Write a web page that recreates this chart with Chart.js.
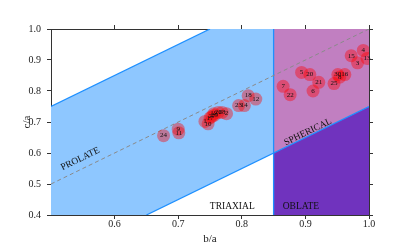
<!DOCTYPE html>
<html>
<head>
<meta charset="utf-8">
<script src="https://cdn.jsdelivr.net/npm/chart.js@4/dist/chart.umd.min.js"></script>
<style>
  body { margin: 0; background: #fff; }
</style>
</head>
<body>
<canvas id="shapeChart" width="410" height="246"></canvas>
<script>
// object ids with axis ratios b/a and c/a
var ids = [4, 15, 3, 13, 5, 20, 7, 22, 21, 6, 25, 30, 8, 16,
           24, 9, 11, 1, 10, 17, 27, 29, 19, 26, 28, 2, 23, 14, 18, 12];
var ba = [0.991, 0.972, 0.982, 0.997, 0.894, 0.907, 0.865, 0.876, 0.921, 0.912, 0.945, 0.951, 0.954, 0.962,
          0.677, 0.700, 0.701, 0.742, 0.747, 0.750, 0.753, 0.757, 0.756, 0.763, 0.769, 0.776, 0.795, 0.804, 0.810, 0.822];
var ca = [0.931, 0.914, 0.891, 0.905, 0.860, 0.853, 0.815, 0.788, 0.828, 0.800, 0.824, 0.853, 0.845, 0.853,
          0.656, 0.677, 0.665, 0.702, 0.694, 0.713, 0.718, 0.722, 0.727, 0.731, 0.731, 0.727, 0.753, 0.753, 0.785, 0.774];

var xTicks = [0.6, 0.7, 0.8, 0.9, 1.0];
var yTicks = [0.4, 0.5, 0.6, 0.7, 0.8, 0.9, 1.0];

// region definitions: c/a = b/a +/- offset, split at b/a = 0.85
var xMin = 0.5, xMax = 1.0, yMin = 0.4, yMax = 1.0;
var bandOffset = 0.25;
var splitBA = 0.85;

var regionLabels = [
  { text: "PROLATE",   x: 0.546, y: 0.581, rotate: true },
  { text: "SPHERICAL", x: 0.904, y: 0.668, rotate: true },
  { text: "TRIAXIAL",  x: 0.785, y: 0.429, rotate: false },
  { text: "OBLATE",    x: 0.893, y: 0.426, rotate: false }
];

var serif = "'Liberation Serif', 'Times New Roman', serif";

var up = function (x) { return { x: x, y: x + bandOffset }; };
var lo = function (x) { return { x: x, y: x - bandOffset }; };

var bandPoly = [up(xMin), up(yMax - bandOffset), { x: splitBA, y: yMax }, lo(splitBA),
                lo(yMin + bandOffset), { x: xMin, y: yMin }, up(xMin)];
var spherePoly = [lo(splitBA), { x: splitBA, y: yMax }, { x: xMax, y: yMax }, lo(xMax), lo(splitBA)];
var oblatePoly = [{ x: splitBA, y: yMin }, lo(splitBA), lo(xMax), { x: xMax, y: yMin }, { x: splitBA, y: yMin }];

var points = ids.map(function (id, i) { return { x: ba[i], y: ca[i] }; });

function region(data, color) {
  return { type: 'line', data: data, fill: 'shape', backgroundColor: color,
           borderWidth: 0, pointRadius: 0, tension: 0 };
}
function edge(data, color, dash) {
  return { type: 'line', data: data, fill: false, borderColor: color, borderWidth: dash ? 1 : 1.3,
           borderDash: dash || [], pointRadius: 0, tension: 0 };
}

var labelPlugin = {
  id: 'labels',
  afterDatasetsDraw: function (chart) {
    var ctx = chart.ctx;
    var xs = chart.scales.x, ys = chart.scales.y;
    ctx.save();
    // region names
    var ang = Math.atan2(ys.getPixelForValue(1) - ys.getPixelForValue(0.5),
                         xs.getPixelForValue(1) - xs.getPixelForValue(0.5));
    ctx.fillStyle = '#111';
    ctx.font = '9.5px ' + serif;
    ctx.textAlign = 'center';
    ctx.textBaseline = 'middle';
    regionLabels.forEach(function (r) {
      ctx.save();
      ctx.translate(xs.getPixelForValue(r.x), ys.getPixelForValue(r.y));
      if (r.rotate) ctx.rotate(ang);
      ctx.fillText(r.text, 0, 0);
      ctx.restore();
    });
    // point ids
    var meta = chart.getDatasetMeta(0);
    ctx.font = '7px ' + serif;
    meta.data.forEach(function (el, i) {
      ctx.fillText(String(ids[i]), el.x, el.y);
    });
    ctx.restore();
  }
};

function fixTicks(vals) {
  return function (s) { s.ticks = vals.map(function (v) { return { value: v }; }); };
}
var tickColor = '#333';

new Chart(document.getElementById("shapeChart"), {
  type: 'scatter',
  data: {
    datasets: [
      { data: points, backgroundColor: 'rgba(255,0,0,0.4)', borderWidth: 0, pointRadius: 6.5, showLine: false },
      edge([{ x: xMin, y: xMin }, { x: xMax, y: xMax }], '#8a8a8a', [4, 3]),
      edge([up(xMin), up(yMax - bandOffset)], '#1E90FF'),
      edge([lo(yMin + bandOffset), lo(xMax)], '#1E90FF'),
      edge([{ x: splitBA, y: yMin }, { x: splitBA, y: yMax }], '#1E90FF'),
      region(oblatePoly, '#7033BE'),
      region(spherePoly, '#C17FC1'),
      region(bandPoly, '#8EC7FF')
    ]
  },
  options: {
    responsive: false,
    animation: false,
    layout: { padding: 0 },
    plugins: { legend: { display: false }, tooltip: { enabled: false } },
    scales: {
      x: {
        type: 'linear', position: 'bottom', min: xMin, max: xMax,
        afterBuildTicks: fixTicks(xTicks),
        afterFit: function (s) { s.height = 31; },
        grid: { drawOnChartArea: false, tickLength: 4, color: tickColor },
        border: { color: tickColor },
        ticks: { padding: -1, color: '#222', font: { family: serif, size: 10 },
                 callback: function (v) { return Number(v).toFixed(1); } },
        title: { display: true, text: 'b/a', color: '#222', font: { family: serif, size: 11 },
                 padding: { top: 7, bottom: 0 } }
      },
      y: {
        type: 'linear', position: 'left', min: yMin, max: yMax,
        afterBuildTicks: fixTicks(yTicks),
        afterFit: function (s) { s.width = 51; },
        grid: { drawOnChartArea: false, tickLength: 4, color: tickColor },
        border: { color: tickColor },
        ticks: { padding: 6, color: '#222', font: { family: serif, size: 10 },
                 callback: function (v) { return Number(v).toFixed(1); } },
        title: { display: true, text: 'c/a', color: '#222', font: { family: serif, size: 11 },
                 padding: { top: 21, bottom: 0 } }
      },
      x2: {
        type: 'linear', position: 'top', min: xMin, max: xMax,
        afterBuildTicks: fixTicks(xTicks),
        afterFit: function (s) { s.height = 29; },
        grid: { drawOnChartArea: false, tickLength: 4, color: tickColor },
        border: { color: tickColor },
        ticks: { display: false }
      },
      y2: {
        type: 'linear', position: 'right', min: yMin, max: yMax,
        afterBuildTicks: fixTicks(yTicks),
        afterFit: function (s) { s.width = 41; },
        grid: { drawOnChartArea: false, tickLength: 4, color: tickColor },
        border: { color: tickColor },
        ticks: { display: false }
      }
    }
  },
  plugins: [labelPlugin]
});
</script>
</body>
</html>
